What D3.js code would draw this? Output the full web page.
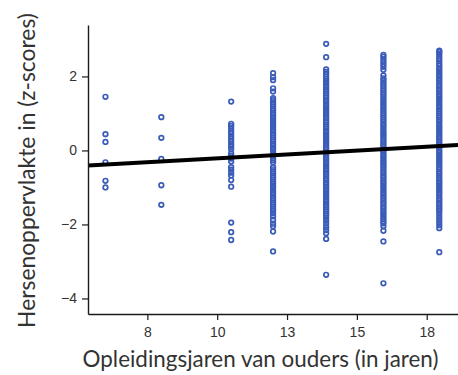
<!DOCTYPE html>
<html>
<head>
<meta charset="utf-8">
<script src="https://cdn.jsdelivr.net/npm/d3@7"></script>
<style>
  html, body { margin: 0; padding: 0; background: #fff; }
  svg { display: block; }
</style>
</head>
<body>
<svg id="chart" width="458" height="375"></svg>
<script>
// ---- data ----
const xCategories = [6.5, 8.5, 11, 12.5, 14.4, 16.45, 18.45];
const col1 = [1.45, 0.44, 0.23, -0.32, -0.82, -1.0];
const col2 = [0.90, 0.34, -0.23, -0.94, -1.47];
const col3 = [1.32, 0.72, 0.66, 0.59, 0.52, 0.45, 0.38, 0.31, 0.24, 0.17, 0.10, 0.03, -0.08, -0.15, -0.22, -0.30, -0.45, -0.52, -0.60, -0.68, -0.80, -0.98, -1.95, -2.21, -2.42];
const col4 = [2.09, 1.98, 1.90, 1.68, 1.59, 1.41, 1.36, 1.30, 1.25, 1.19, 1.13, 1.08, 1.02, 0.97, 0.91, 0.85, 0.80, 0.74, 0.69, 0.63, 0.57, 0.52, 0.46, 0.41, 0.35, 0.29, 0.24, 0.18, 0.13, 0.07, 0.02, -0.04, -0.10, -0.15, -0.21, -0.26, -0.32, -0.45, -0.51, -0.57, -0.62, -0.68, -0.73, -0.79, -0.85, -0.90, -0.96, -1.01, -1.07, -1.13, -1.18, -1.24, -1.29, -1.35, -1.41, -1.46, -1.52, -1.58, -1.63, -1.70, -1.78, -1.88, -1.98, -2.05, -2.19, -2.73];
const col5 = [2.88, 2.52, 2.19, 2.12, 2.06, 1.99, 1.93, 1.88, 1.82, 1.76, 1.71, 1.65, 1.60, 1.54, 1.48, 1.43, 1.37, 1.32, 1.26, 1.20, 1.15, 1.09, 1.04, 0.98, 0.92, 0.87, 0.81, 0.76, 0.70, 0.64, 0.59, 0.53, 0.48, 0.42, 0.36, 0.31, 0.25, 0.20, 0.14, 0.08, 0.03, -0.03, -0.08, -0.14, -0.20, -0.25, -0.31, -0.36, -0.42, -0.48, -0.53, -0.59, -0.64, -0.70, -0.76, -0.81, -0.87, -0.92, -0.98, -1.04, -1.09, -1.15, -1.20, -1.26, -1.32, -1.37, -1.43, -1.48, -1.54, -1.60, -1.65, -1.71, -1.76, -1.82, -1.90, -1.98, -2.07, -2.15, -2.24, -2.39, -3.36];
const col6 = [2.58, 2.53, 2.47, 2.40, 2.33, 2.26, 2.18, 2.03, 1.95, 1.90, 1.84, 1.79, 1.73, 1.67, 1.62, 1.56, 1.51, 1.45, 1.39, 1.34, 1.28, 1.23, 1.17, 1.11, 1.06, 1.00, 0.95, 0.89, 0.83, 0.78, 0.72, 0.67, 0.61, 0.55, 0.50, 0.44, 0.39, 0.33, 0.27, 0.22, 0.16, 0.11, 0.05, -0.01, -0.06, -0.12, -0.17, -0.23, -0.29, -0.34, -0.40, -0.45, -0.51, -0.57, -0.62, -0.68, -0.73, -0.79, -0.85, -0.90, -0.96, -1.01, -1.07, -1.13, -1.18, -1.24, -1.29, -1.35, -1.41, -1.46, -1.52, -1.57, -1.63, -1.69, -1.74, -1.80, -1.86, -1.92, -1.97, -2.05, -2.17, -2.46, -3.59];
const col7 = [2.70, 2.66, 2.61, 2.55, 2.48, 2.42, 2.35, 2.29, 2.23, 2.18, 2.12, 2.06, 2.01, 1.95, 1.90, 1.84, 1.78, 1.73, 1.67, 1.62, 1.56, 1.50, 1.45, 1.39, 1.34, 1.28, 1.22, 1.17, 1.11, 1.06, 1.00, 0.94, 0.89, 0.83, 0.78, 0.72, 0.66, 0.61, 0.55, 0.50, 0.44, 0.38, 0.33, 0.27, 0.22, 0.16, 0.10, 0.05, -0.01, -0.06, -0.12, -0.18, -0.23, -0.29, -0.34, -0.40, -0.46, -0.51, -0.57, -0.62, -0.68, -0.74, -0.79, -0.85, -0.90, -0.96, -1.02, -1.07, -1.13, -1.18, -1.24, -1.30, -1.35, -1.41, -1.46, -1.52, -1.58, -1.63, -1.70, -1.78, -1.86, -1.94, -2.02, -2.10, -2.75];
const columns = [col1, col2, col3, col4, col5, col6, col7];

const xTickValues = [8, 10.5, 13, 15.5, 18];
const xTickLabels = ["8", "10", "13", "15", "18"];
const yTickValues = [2, 0, -2, -4];

// regression line end points (data units)
const regX = [5.875, 19.12];
const regY = [-0.41, 0.15];

const xTitle = "Opleidingsjaren van ouders (in jaren)";
const yTitle = "Hersenoppervlakte in (z-scores)";

// ---- layout ----
const svg = d3.select("#chart");
const plotLeft = 88, plotRight = 458, plotTop = 25, plotBottom = 314;

const x = d3.scaleLinear().domain([5.875, 19.12]).range([plotLeft, plotRight]);
const y = d3.scaleLinear().domain([-4.42, 3.39]).range([plotBottom, plotTop]);

// points
const points = columns.flatMap((vals, i) => vals.map(v => ({ x: xCategories[i], y: v })));
svg.append("g")
  .selectAll("circle")
  .data(points)
  .join("circle")
  .attr("cx", d => x(d.x))
  .attr("cy", d => y(d.y))
  .attr("r", 2.3)
  .attr("fill", "none")
  .attr("stroke", "#3a5cb8")
  .attr("stroke-width", 1.7);

// regression line
svg.append("line")
  .attr("x1", x(regX[0])).attr("y1", y(regY[0]))
  .attr("x2", x(regX[1])).attr("y2", y(regY[1]))
  .attr("stroke", "#000")
  .attr("stroke-width", 4);

// axes
const yAxis = d3.axisLeft(y).tickValues(yTickValues).tickSize(6).tickPadding(5).tickSizeOuter(0)
  .tickFormat(d => d < 0 ? "\u2212" + Math.abs(d) : d);
const xAxis = d3.axisBottom(x).tickValues(xTickValues).tickSize(6).tickPadding(7).tickSizeOuter(0)
  .tickFormat((d, i) => xTickLabels[i]);

const gy = svg.append("g").attr("transform", `translate(${plotLeft},0)`).call(yAxis);
const gx = svg.append("g").attr("transform", `translate(0,${plotBottom})`).call(xAxis);

[gx, gy].forEach(g => {
  g.select(".domain").attr("stroke", "#1a1a1a").attr("stroke-width", 1.4);
  g.selectAll(".tick line").attr("stroke", "#1a1a1a").attr("stroke-width", 1.2);
  g.selectAll(".tick text")
    .attr("fill", "#333")
    .style("font-family", "'Liberation Sans', Arial, sans-serif")
    .style("font-size", "14px");
});

// titles
function fit(textSel, target) {
  const w = textSel.node().getComputedTextLength();
  const fs = parseFloat(textSel.style("font-size"));
  textSel.style("font-size", (fs * target / w) + "px");
}

const xt = svg.append("text")
  .attr("x", 260.5).attr("y", 367)
  .attr("text-anchor", "middle")
  .attr("fill", "#333")
  .style("font-family", "Lato, 'Open Sans', sans-serif")
  .style("font-size", "20px")
  .text(xTitle);
fit(xt, 356);

const yt = svg.append("text")
  .attr("transform", "translate(35,170.5) rotate(-90)")
  .attr("text-anchor", "middle")
  .attr("fill", "#333")
  .style("font-family", "Lato, 'Open Sans', sans-serif")
  .style("font-size", "20px")
  .text(yTitle);
fit(yt, 315);
</script>
</body>
</html>
